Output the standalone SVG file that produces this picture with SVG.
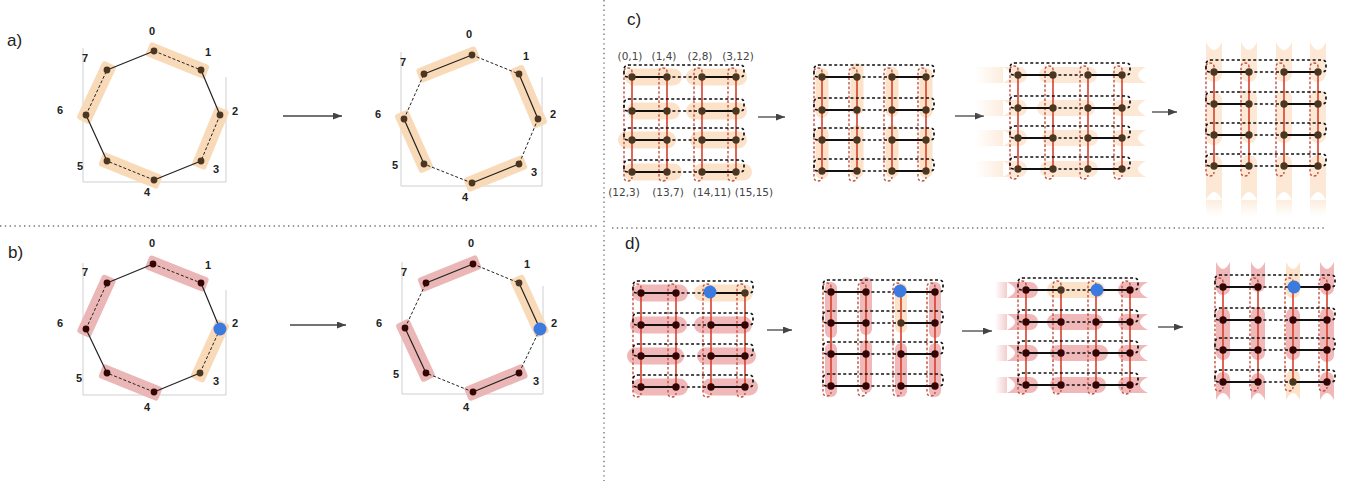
<svg xmlns="http://www.w3.org/2000/svg" xmlns:xlink="http://www.w3.org/1999/xlink" width="1358" height="481" viewBox="0 0 1358 481">
<style>
.pO{fill:#f9dab8}
.pR{fill:#ebb6b6}
.gO{fill:#fbe2c9}
.gO2{fill:#fce8d5}
.gR{fill:#f0b8b8}
.es{stroke:#222;stroke-width:1.2;fill:none}
.ed{stroke:#222;stroke-width:1;stroke-dasharray:3 2;fill:none}
.gs{stroke:#111;stroke-width:2;fill:none}
.gd{stroke:#111;stroke-width:1.7;stroke-dasharray:3 2.4;fill:none}
.rs{stroke:#d8402a;stroke-width:1.6;fill:none}
.rd{stroke:#c5503e;stroke-width:1.4;stroke-dasharray:2.6 2;fill:none}
.fr{stroke:#cfcfcf;stroke-width:1;fill:none}
.nb{fill:#4b3621}
.nm{fill:#330505}
.bl{fill:#3b7be0}
.lab{font-family:"Liberation Sans",Arial,sans-serif;font-weight:bold;font-size:11px;fill:#222;text-anchor:middle}
.big{font-family:"Liberation Sans",Arial,sans-serif;font-size:17px;fill:#222}
.co{font-family:"DejaVu Sans",sans-serif;font-size:10.5px;fill:#444;text-anchor:middle}
.dv{stroke:#777;stroke-width:1.4;stroke-dasharray:1.4 3.4;fill:none}
.ar{stroke:#444;stroke-width:1.3;fill:none}
</style>
<defs>
<marker id="ah" markerWidth="9" markerHeight="7" refX="9" refY="3.5" orient="auto" markerUnits="userSpaceOnUse"><path d="M0 0L9 3.5L0 7Z" fill="#444"/></marker>
<g id="rowT">
<path class="gd" d="M104 0H108Q112 0 112 -4V-8Q112 -12 108 -12H-3Q-8 -12 -8 -7V-4Q-8 0 -4 0H0"/>
<line class="gs" x1="0" y1="0" x2="35" y2="0"/>
<line class="gd" x1="35" y1="0" x2="70" y2="0"/>
<line class="gs" x1="70" y1="0" x2="104" y2="0"/>
</g>
<g id="colT">
<path class="rd" d="M0 0V-5Q0 -9 -4 -9Q-8 -9 -8 -5V100Q-8 104 -4 104Q0 104 0 100"/>
<line class="rs" x1="0" y1="0" x2="0" y2="95"/>
</g>
<circle id="nB" r="3.7" class="nb"/>
<circle id="nM" r="3.7" class="nm"/>
<circle id="nBl" r="6.5" class="bl"/>
<circle id="oB" r="3.4" class="nb"/>
<circle id="oM" r="3.4" class="nm"/>
<linearGradient id="fl" x1="0" y1="0" x2="1" y2="0"><stop offset="0" stop-color="#fce8d5" stop-opacity="0"/><stop offset="1" stop-color="#fce8d5" stop-opacity="0.8"/></linearGradient>
<linearGradient id="fd" x1="0" y1="0" x2="0" y2="1"><stop offset="0" stop-color="#fce8d5" stop-opacity="0.8"/><stop offset="1" stop-color="#fce8d5" stop-opacity="0"/></linearGradient>
<linearGradient id="flR" x1="0" y1="0" x2="1" y2="0"><stop offset="0" stop-color="#f0b8b8" stop-opacity="0"/><stop offset="1" stop-color="#f0b8b8" stop-opacity="0.7"/></linearGradient>
</defs>
<rect width="1358" height="481" fill="#fff"/>

<g id="dividers">
<line class="dv" x1="604" y1="0" x2="604" y2="481"/>
<line class="dv" x1="0" y1="226" x2="598" y2="226"/>
<line class="dv" x1="612" y1="228" x2="1326" y2="228"/>
</g>

<text class="big" x="7" y="46">a)</text>
<text class="big" x="8" y="258">b)</text>
<text class="big" x="627" y="25">c)</text>
<text class="big" x="625" y="249">d)</text>

<g id="aL">
<polyline class="fr" points="83,48 83,182 226,182 226,77"/>
<rect class="pO" x="-32" y="-7.5" width="64" height="15" rx="3" transform="translate(177.5,60.5) rotate(22)"/>
<rect class="pO" x="-32" y="-7.5" width="64" height="15" rx="3" transform="translate(210.5,138) rotate(-67.6)"/>
<rect class="pO" x="-32" y="-7.5" width="64" height="15" rx="3" transform="translate(130.5,170.5) rotate(22)"/>
<rect class="pO" x="-32" y="-7.5" width="64" height="15" rx="3" transform="translate(96.5,92.5) rotate(-65)"/>
<g id="aL-edges">
<path class="ed" d="M154 51L201 70M220 115L201 161M154 180L107 161M86 115L107 70"/>
<path class="es" d="M201 70L220 115M201 161L154 180M107 161L86 115M107 70L154 51"/>
</g>
<use href="#oB" x="154" y="51"/><use href="#oB" x="201" y="70"/><use href="#oB" x="220" y="115"/><use href="#oB" x="201" y="161"/>
<use href="#oB" x="154" y="180"/><use href="#oB" x="107" y="161"/><use href="#oB" x="86" y="115"/><use href="#oB" x="107" y="70"/>
<text class="lab" x="152" y="35">0</text><text class="lab" x="208" y="56">1</text><text class="lab" x="235" y="115">2</text><text class="lab" x="216" y="173">3</text>
<text class="lab" x="147" y="196">4</text><text class="lab" x="80" y="170">5</text><text class="lab" x="60" y="114">6</text><text class="lab" x="85" y="62">7</text>
</g>

<line class="ar" x1="283" y1="116" x2="342" y2="116" marker-end="url(#ah)"/>

<g id="aR">
<polyline class="fr" points="401,52 401,186 542,186 542,77"/>
<rect class="pO" x="-32" y="-7.5" width="64" height="15" rx="3" transform="translate(448,64.5) rotate(-21.6)"/>
<rect class="pO" x="-32" y="-7.5" width="64" height="15" rx="3" transform="translate(528.5,96.5) rotate(67.1)"/>
<rect class="pO" x="-32" y="-7.5" width="64" height="15" rx="3" transform="translate(495.5,173.5) rotate(-22)"/>
<rect class="pO" x="-32" y="-7.5" width="64" height="15" rx="3" transform="translate(414,141.5) rotate(66)"/>
<g id="aR-edges">
<path class="ed" d="M472 55L519 74M538 119L519 164M472 183L424 164M404 119L424 74"/>
<path class="es" d="M519 74L538 119M519 164L472 183M424 164L404 119M424 74L472 55"/>
</g>
<use href="#oB" x="472" y="55"/><use href="#oB" x="519" y="74"/><use href="#oB" x="538" y="119"/><use href="#oB" x="519" y="164"/>
<use href="#oB" x="472" y="183"/><use href="#oB" x="424" y="164"/><use href="#oB" x="404" y="119"/><use href="#oB" x="424" y="74"/>
<text class="lab" x="469" y="38">0</text><text class="lab" x="526" y="60">1</text><text class="lab" x="553" y="118">2</text><text class="lab" x="534" y="176">3</text>
<text class="lab" x="465" y="201">4</text><text class="lab" x="395" y="169">5</text><text class="lab" x="378" y="118">6</text><text class="lab" x="403" y="66">7</text>
</g>

<g id="bL">
<polyline class="fr" points="83,263 83,395 226,395 226,290"/>
<rect class="pR" x="-32" y="-7.5" width="64" height="15" rx="3" transform="translate(177,273.5) rotate(21.6)"/>
<rect class="pO" x="-32" y="-7.5" width="64" height="15" rx="3" transform="translate(210,351) rotate(-65.6)"/>
<rect class="pR" x="-32" y="-7.5" width="64" height="15" rx="3" transform="translate(130.5,382.5) rotate(22)"/>
<rect class="pR" x="-32" y="-7.5" width="64" height="15" rx="3" transform="translate(96.5,306) rotate(-65.5)"/>
<g id="bL-edges">
<path class="ed" d="M153 264L201 283M220 329L200 373M154 392L107 373M86 329L107 283"/>
<path class="es" d="M201 283L220 329M200 373L154 392M107 373L86 329M107 283L153 264"/>
</g>
<use href="#oM" x="153" y="264"/><use href="#oM" x="201" y="283"/><use href="#oB" x="200" y="373"/>
<use href="#oM" x="154" y="392"/><use href="#oM" x="107" y="373"/><use href="#oM" x="86" y="329"/><use href="#oM" x="107" y="283"/>
<use href="#nBl" x="220" y="329"/>
<text class="lab" x="152" y="247">0</text><text class="lab" x="208" y="269">1</text><text class="lab" x="235" y="327">2</text><text class="lab" x="216" y="385">3</text>
<text class="lab" x="147" y="411">4</text><text class="lab" x="79" y="382">5</text><text class="lab" x="60" y="327">6</text><text class="lab" x="85" y="276">7</text>
</g>

<line class="ar" x1="290" y1="325" x2="346" y2="325" marker-end="url(#ah)"/>

<g id="bR">
<polyline class="fr" points="402,262 402,394 543,394 543,286"/>
<rect class="pR" x="-32" y="-7.5" width="64" height="15" rx="3" transform="translate(449.5,273.5) rotate(-22)"/>
<rect class="pO" x="-32" y="-7.5" width="64" height="15" rx="3" transform="translate(529.5,306) rotate(65.5)"/>
<rect class="pR" x="-32" y="-7.5" width="64" height="15" rx="3" transform="translate(496,382.5) rotate(-22.4)"/>
<rect class="pR" x="-32" y="-7.5" width="64" height="15" rx="3" transform="translate(415.5,350.5) rotate(65)"/>
<g id="bR-edges">
<path class="ed" d="M473 264L519 283M540 329L519 373M473 392L426 373M405 328L426 283"/>
<path class="es" d="M519 283L540 329M519 373L473 392M426 373L405 328M426 283L473 264"/>
</g>
<use href="#oM" x="473" y="264"/><use href="#oB" x="519" y="283"/><use href="#oM" x="519" y="373"/>
<use href="#oM" x="473" y="392"/><use href="#oM" x="426" y="373"/><use href="#oM" x="405" y="328"/><use href="#oM" x="426" y="283"/>
<use href="#nBl" x="540" y="329"/>
<text class="lab" x="471" y="247">0</text><text class="lab" x="527" y="268">1</text><text class="lab" x="554" y="327">2</text><text class="lab" x="536" y="385">3</text>
<text class="lab" x="466" y="411">4</text><text class="lab" x="396" y="378">5</text><text class="lab" x="379" y="327">6</text><text class="lab" x="404" y="276">7</text>
</g>

<g id="c1">
<rect class="gO" x="625" y="68.5" width="57" height="17" rx="8.5"/><rect class="gO" x="686" y="68.5" width="61" height="17" rx="8.5"/>
<rect class="gO" x="627" y="102.5" width="53" height="17" rx="8.5"/><rect class="gO" x="686" y="102.5" width="61" height="17" rx="8.5"/>
<rect class="gO" x="618" y="131.5" width="58" height="17" rx="8.5"/><rect class="gO" x="690" y="131.5" width="57" height="17" rx="8.5"/>
<rect class="gO" x="623" y="163.5" width="59" height="17" rx="8.5"/><rect class="gO" x="693" y="163.5" width="59" height="17" rx="8.5"/>
<use href="#colT" x="632" y="77"/><use href="#colT" x="667" y="77"/><use href="#colT" x="702" y="77"/><use href="#colT" x="736" y="77"/>
<use href="#rowT" x="632" y="77"/><use href="#rowT" x="632" y="111"/><use href="#rowT" x="632" y="140"/><use href="#rowT" x="632" y="172"/>
<use href="#nB" x="632" y="77"/><use href="#nB" x="667" y="77"/><use href="#nB" x="702" y="77"/><use href="#nB" x="736" y="77"/>
<use href="#nB" x="632" y="111"/><use href="#nB" x="667" y="111"/><use href="#nB" x="702" y="111"/><use href="#nB" x="736" y="111"/>
<use href="#nB" x="632" y="140"/><use href="#nB" x="667" y="140"/><use href="#nB" x="702" y="140"/><use href="#nB" x="736" y="140"/>
<use href="#nB" x="632" y="172"/><use href="#nB" x="667" y="172"/><use href="#nB" x="702" y="172"/><use href="#nB" x="736" y="172"/>
<text class="co" x="630" y="60">(0,1)</text><text class="co" x="664" y="60">(1,4)</text><text class="co" x="700" y="60">(2,8)</text><text class="co" x="738" y="60">(3,12)</text>
<text class="co" x="624" y="196">(12,3)</text><text class="co" x="668" y="196">(13,7)</text><text class="co" x="712" y="196">(14,11)</text><text class="co" x="754" y="196">(15,15)</text>
</g>

<line class="ar" x1="758" y1="117" x2="785" y2="117" marker-end="url(#ah)"/>

<g id="c2">
<rect class="gO" x="815.5" y="68" width="13" height="50" rx="6.5"/><rect class="gO" x="815.5" y="127" width="13" height="52" rx="6.5"/>
<rect class="gO" x="850.5" y="63" width="13" height="52" rx="6.5"/><rect class="gO" x="850.5" y="125" width="13" height="53" rx="6.5"/>
<rect class="gO" x="885.5" y="67" width="13" height="50" rx="6.5"/><rect class="gO" x="885.5" y="125" width="13" height="53" rx="6.5"/>
<rect class="gO" x="919.5" y="68" width="13" height="50" rx="6.5"/><rect class="gO" x="919.5" y="127" width="13" height="51" rx="6.5"/>
<use href="#colT" x="822" y="77"/><use href="#colT" x="857" y="77"/><use href="#colT" x="892" y="77"/><use href="#colT" x="926" y="77"/>
<use href="#rowT" x="822" y="77"/><use href="#rowT" x="822" y="110"/><use href="#rowT" x="822" y="140"/><use href="#rowT" x="822" y="171"/>
<use href="#nB" x="822" y="77"/><use href="#nB" x="857" y="77"/><use href="#nB" x="892" y="77"/><use href="#nB" x="926" y="77"/>
<use href="#nB" x="822" y="110"/><use href="#nB" x="857" y="110"/><use href="#nB" x="892" y="110"/><use href="#nB" x="926" y="110"/>
<use href="#nB" x="822" y="140"/><use href="#nB" x="857" y="140"/><use href="#nB" x="892" y="140"/><use href="#nB" x="926" y="140"/>
<use href="#nB" x="822" y="171"/><use href="#nB" x="857" y="171"/><use href="#nB" x="892" y="171"/><use href="#nB" x="926" y="171"/>
</g>

<line class="ar" x1="955" y1="116" x2="984" y2="116" marker-end="url(#ah)"/>

<g id="c3">
<rect class="gO2" x="1039" y="67" width="58" height="16" rx="8"/>
<rect class="gO2" x="1037" y="100" width="58" height="16" rx="8"/>
<rect class="gO2" x="1042" y="130" width="56" height="16" rx="8"/>
<rect class="gO2" x="1040" y="161" width="58" height="16" rx="8"/>
<rect fill="url(#fl)" x="975" y="67" width="28" height="16"/><rect fill="url(#fl)" x="975" y="100" width="28" height="16"/><rect fill="url(#fl)" x="975" y="130" width="28" height="16"/><rect fill="url(#fl)" x="975" y="161" width="28" height="16"/>
<path class="gO2" d="M1003 67H1019A8 8 0 0 1 1019 83H1003Q1019 75 1003 67Z"/>
<path class="gO2" d="M1003 100H1019A8 8 0 0 1 1019 116H1003Q1019 108 1003 100Z"/>
<path class="gO2" d="M1003 130H1019A8 8 0 0 1 1019 146H1003Q1019 138 1003 130Z"/>
<path class="gO2" d="M1003 161H1019A8 8 0 0 1 1019 177H1003Q1019 169 1003 161Z"/>
<path class="gO2" d="M1120 67A8 8 0 0 0 1120 83H1146Q1130 75 1146 67Z"/>
<path class="gO2" d="M1120 100A8 8 0 0 0 1120 116H1146Q1130 108 1146 100Z"/>
<path class="gO2" d="M1120 130A8 8 0 0 0 1120 146H1146Q1130 138 1146 130Z"/>
<path class="gO2" d="M1120 161A8 8 0 0 0 1120 177H1146Q1130 169 1146 161Z"/>
<use href="#colT" x="1018" y="75"/><use href="#colT" x="1053" y="75"/><use href="#colT" x="1088" y="75"/><use href="#colT" x="1122" y="75"/>
<use href="#rowT" x="1018" y="75"/><use href="#rowT" x="1018" y="108"/><use href="#rowT" x="1018" y="138"/><use href="#rowT" x="1018" y="169"/>
<use href="#nB" x="1018" y="75"/><use href="#nB" x="1053" y="75"/><use href="#nB" x="1088" y="75"/><use href="#nB" x="1122" y="75"/>
<use href="#nB" x="1018" y="108"/><use href="#nB" x="1053" y="108"/><use href="#nB" x="1088" y="108"/><use href="#nB" x="1122" y="108"/>
<use href="#nB" x="1018" y="138"/><use href="#nB" x="1053" y="138"/><use href="#nB" x="1088" y="138"/><use href="#nB" x="1122" y="138"/>
<use href="#nB" x="1018" y="169"/><use href="#nB" x="1053" y="169"/><use href="#nB" x="1088" y="169"/><use href="#nB" x="1122" y="169"/>
</g>

<line class="ar" x1="1152" y1="112" x2="1177" y2="112" marker-end="url(#ah)"/>

<g id="c4">
<rect class="gO2" x="1206" y="92" width="16" height="53" rx="8"/><rect class="gO2" x="1241" y="90" width="16" height="53" rx="8"/>
<rect class="gO2" x="1276" y="90" width="16" height="53" rx="8"/><rect class="gO2" x="1310" y="90" width="16" height="53" rx="8"/>
<path class="gO2" d="M1206 42Q1214 58 1222 42V74A8 8 0 0 1 1206 74Z"/>
<path class="gO2" d="M1241 42Q1249 58 1257 42V74A8 8 0 0 1 1241 74Z"/>
<path class="gO2" d="M1276 42Q1284 58 1292 42V74A8 8 0 0 1 1276 74Z"/>
<path class="gO2" d="M1310 42Q1318 58 1326 42V74A8 8 0 0 1 1310 74Z"/>
<path class="gO2" d="M1206 163A8 8 0 0 1 1222 163V200Q1214 184 1206 200Z"/>
<path class="gO2" d="M1241 163A8 8 0 0 1 1257 163V200Q1249 184 1241 200Z"/>
<path class="gO2" d="M1276 163A8 8 0 0 1 1292 163V200Q1284 184 1276 200Z"/>
<path class="gO2" d="M1310 163A8 8 0 0 1 1326 163V200Q1318 184 1310 200Z"/>
<rect fill="url(#fd)" x="1206" y="200" width="16" height="16"/><rect fill="url(#fd)" x="1241" y="200" width="16" height="16"/>
<rect fill="url(#fd)" x="1276" y="200" width="16" height="16"/><rect fill="url(#fd)" x="1310" y="200" width="16" height="16"/>
<use href="#colT" x="1214" y="72"/><use href="#colT" x="1249" y="72"/><use href="#colT" x="1284" y="72"/><use href="#colT" x="1318" y="72"/>
<use href="#rowT" x="1214" y="72"/><use href="#rowT" x="1214" y="104"/><use href="#rowT" x="1214" y="135"/><use href="#rowT" x="1214" y="166"/>
<use href="#nB" x="1214" y="72"/><use href="#nB" x="1249" y="72"/><use href="#nB" x="1284" y="72"/><use href="#nB" x="1318" y="72"/>
<use href="#nB" x="1214" y="104"/><use href="#nB" x="1249" y="104"/><use href="#nB" x="1284" y="104"/><use href="#nB" x="1318" y="104"/>
<use href="#nB" x="1214" y="135"/><use href="#nB" x="1249" y="135"/><use href="#nB" x="1284" y="135"/><use href="#nB" x="1318" y="135"/>
<use href="#nB" x="1214" y="166"/><use href="#nB" x="1249" y="166"/><use href="#nB" x="1284" y="166"/><use href="#nB" x="1318" y="166"/>
</g>

<g id="d1">
<rect class="gR" x="632" y="284.5" width="56" height="17" rx="8.5"/><rect class="gO" x="694" y="284.5" width="59" height="17" rx="8.5"/>
<rect class="gR" x="630" y="316.5" width="57" height="17" rx="8.5"/><rect class="gR" x="694" y="316.5" width="58" height="17" rx="8.5"/>
<rect class="gR" x="627" y="347.5" width="57" height="17" rx="8.5"/><rect class="gR" x="697" y="347.5" width="59" height="17" rx="8.5"/>
<rect class="gR" x="632" y="378.5" width="56" height="17" rx="8.5"/><rect class="gR" x="702" y="378.5" width="56" height="17" rx="8.5"/>
<use href="#colT" x="641" y="293"/><use href="#colT" x="676" y="293"/><use href="#colT" x="711" y="293"/><use href="#colT" x="745" y="293"/>
<use href="#rowT" x="641" y="293"/><use href="#rowT" x="641" y="325"/><use href="#rowT" x="641" y="356"/><use href="#rowT" x="641" y="387"/>
<use href="#nM" x="641" y="293"/><use href="#nM" x="676" y="293"/><use href="#nB" x="745" y="293"/>
<use href="#nM" x="641" y="325"/><use href="#nM" x="676" y="325"/><use href="#nM" x="711" y="325"/><use href="#nM" x="745" y="325"/>
<use href="#nM" x="641" y="356"/><use href="#nM" x="676" y="356"/><use href="#nM" x="711" y="356"/><use href="#nM" x="745" y="356"/>
<use href="#nM" x="641" y="387"/><use href="#nM" x="676" y="387"/><use href="#nM" x="711" y="387"/><use href="#nM" x="745" y="387"/>
<use href="#nBl" x="710" y="292"/>
</g>

<line class="ar" x1="767" y1="330" x2="792" y2="330" marker-end="url(#ah)"/>

<g id="d2">
<rect class="gR" x="825" y="282" width="12" height="56" rx="6"/><rect class="gR" x="825" y="343" width="12" height="54" rx="6"/>
<rect class="gR" x="860" y="277" width="12" height="58" rx="6"/><rect class="gR" x="860" y="340" width="12" height="53" rx="6"/>
<rect class="gO" x="895" y="283" width="12" height="50" rx="6"/><rect class="gR" x="895" y="343" width="12" height="54" rx="6"/>
<rect class="gR" x="929" y="282" width="12" height="56" rx="6"/><rect class="gR" x="929" y="343" width="12" height="54" rx="6"/>
<use href="#colT" x="831" y="292"/><use href="#colT" x="866" y="292"/><use href="#colT" x="901" y="292"/><use href="#colT" x="935" y="292"/>
<use href="#rowT" x="831" y="292"/><use href="#rowT" x="831" y="323"/><use href="#rowT" x="831" y="354"/><use href="#rowT" x="831" y="386"/>
<use href="#nM" x="831" y="292"/><use href="#nM" x="866" y="292"/><use href="#nM" x="935" y="292"/>
<use href="#nM" x="831" y="323"/><use href="#nM" x="866" y="323"/><use href="#nB" x="901" y="323"/><use href="#nM" x="935" y="323"/>
<use href="#nM" x="831" y="354"/><use href="#nM" x="866" y="354"/><use href="#nM" x="901" y="354"/><use href="#nM" x="935" y="354"/>
<use href="#nM" x="831" y="386"/><use href="#nM" x="866" y="386"/><use href="#nM" x="901" y="386"/><use href="#nM" x="935" y="386"/>
<use href="#nBl" x="900" y="291"/>
</g>

<line class="ar" x1="962" y1="331" x2="992" y2="331" marker-end="url(#ah)"/>

<g id="d3">
<rect class="gO" x="1047" y="282" width="58" height="16" rx="8"/>
<rect class="gR" x="1047" y="314" width="56" height="16" rx="8"/>
<rect class="gR" x="1050" y="345" width="58" height="16" rx="8"/>
<rect class="gR" x="1050" y="377" width="56" height="16" rx="8"/>
<rect fill="url(#flR)" x="995" y="282" width="12" height="16"/><rect fill="url(#flR)" x="995" y="314" width="12" height="16"/><rect fill="url(#flR)" x="995" y="345" width="12" height="16"/><rect fill="url(#flR)" x="995" y="377" width="12" height="16"/>
<path class="gR" d="M1007 282H1030A8 8 0 0 1 1030 298H1007Q1023 290 1007 282Z"/>
<path class="gR" d="M1007 314H1030A8 8 0 0 1 1030 330H1007Q1023 322 1007 314Z"/>
<path class="gR" d="M1007 345H1030A8 8 0 0 1 1030 361H1007Q1023 353 1007 345Z"/>
<path class="gR" d="M1007 377H1030A8 8 0 0 1 1030 393H1007Q1023 385 1007 377Z"/>
<path class="gR" d="M1126 282A8 8 0 0 0 1126 298H1148Q1132 290 1148 282Z"/>
<path class="gR" d="M1126 314A8 8 0 0 0 1126 330H1148Q1132 322 1148 314Z"/>
<path class="gR" d="M1126 345A8 8 0 0 0 1126 361H1148Q1132 353 1148 345Z"/>
<path class="gR" d="M1126 377A8 8 0 0 0 1126 393H1148Q1132 385 1148 377Z"/>
<use href="#colT" x="1026" y="290"/><use href="#colT" x="1061" y="290"/><use href="#colT" x="1096" y="290"/><use href="#colT" x="1130" y="290"/>
<use href="#rowT" x="1026" y="290"/><use href="#rowT" x="1026" y="322"/><use href="#rowT" x="1026" y="353"/><use href="#rowT" x="1026" y="385"/>
<use href="#nM" x="1026" y="290"/><use href="#nB" x="1061" y="290"/><use href="#nM" x="1130" y="290"/>
<use href="#nM" x="1026" y="322"/><use href="#nM" x="1061" y="322"/><use href="#nM" x="1096" y="322"/><use href="#nM" x="1130" y="322"/>
<use href="#nM" x="1026" y="353"/><use href="#nM" x="1061" y="353"/><use href="#nM" x="1096" y="353"/><use href="#nM" x="1130" y="353"/>
<use href="#nM" x="1026" y="385"/><use href="#nM" x="1061" y="385"/><use href="#nM" x="1096" y="385"/><use href="#nM" x="1130" y="385"/>
<use href="#nBl" x="1097" y="290"/>
</g>

<line class="ar" x1="1158" y1="327" x2="1183" y2="327" marker-end="url(#ah)"/>

<g id="d4">
<path class="gR" d="M1216 262Q1223 276 1230 262V288A7 7 0 0 1 1216 288Z"/>
<path class="gR" d="M1251 262Q1258 276 1265 262V285A7 7 0 0 1 1251 285Z"/>
<path class="gO" d="M1286 262Q1293 276 1300 262V291A7 7 0 0 1 1286 291Z"/>
<path class="gR" d="M1320 262Q1327 276 1334 262V288A7 7 0 0 1 1320 288Z"/>
<rect class="gR" x="1216" y="308" width="14" height="52" rx="7"/><rect class="gR" x="1251" y="307" width="14" height="53" rx="7"/>
<rect class="gR" x="1286" y="308" width="14" height="52" rx="7"/><rect class="gR" x="1320" y="308" width="14" height="54" rx="7"/>
<path class="gR" d="M1216 379A7 7 0 0 1 1230 379V400Q1223 386 1216 400Z"/>
<path class="gR" d="M1251 380A7 7 0 0 1 1265 380V400Q1258 386 1251 400Z"/>
<path class="gO" d="M1286 377A7 7 0 0 1 1300 377V400Q1293 386 1286 400Z"/>
<path class="gR" d="M1320 379A7 7 0 0 1 1334 379V400Q1327 386 1320 400Z"/>
<use href="#colT" x="1223" y="287"/><use href="#colT" x="1258" y="287"/><use href="#colT" x="1293" y="287"/><use href="#colT" x="1327" y="287"/>
<use href="#rowT" x="1223" y="287"/><use href="#rowT" x="1223" y="320"/><use href="#rowT" x="1223" y="350"/><use href="#rowT" x="1223" y="382"/>
<use href="#nM" x="1223" y="287"/><use href="#nM" x="1258" y="287"/><use href="#nM" x="1327" y="287"/>
<use href="#nM" x="1223" y="320"/><use href="#nM" x="1258" y="320"/><use href="#nM" x="1293" y="320"/><use href="#nM" x="1327" y="320"/>
<use href="#nM" x="1223" y="350"/><use href="#nM" x="1258" y="350"/><use href="#nM" x="1293" y="350"/><use href="#nM" x="1327" y="350"/>
<use href="#nM" x="1223" y="382"/><use href="#nM" x="1258" y="382"/><use href="#nB" x="1293" y="382"/><use href="#nM" x="1327" y="382"/>
<use href="#nBl" x="1294" y="287"/>
</g>
</svg>
